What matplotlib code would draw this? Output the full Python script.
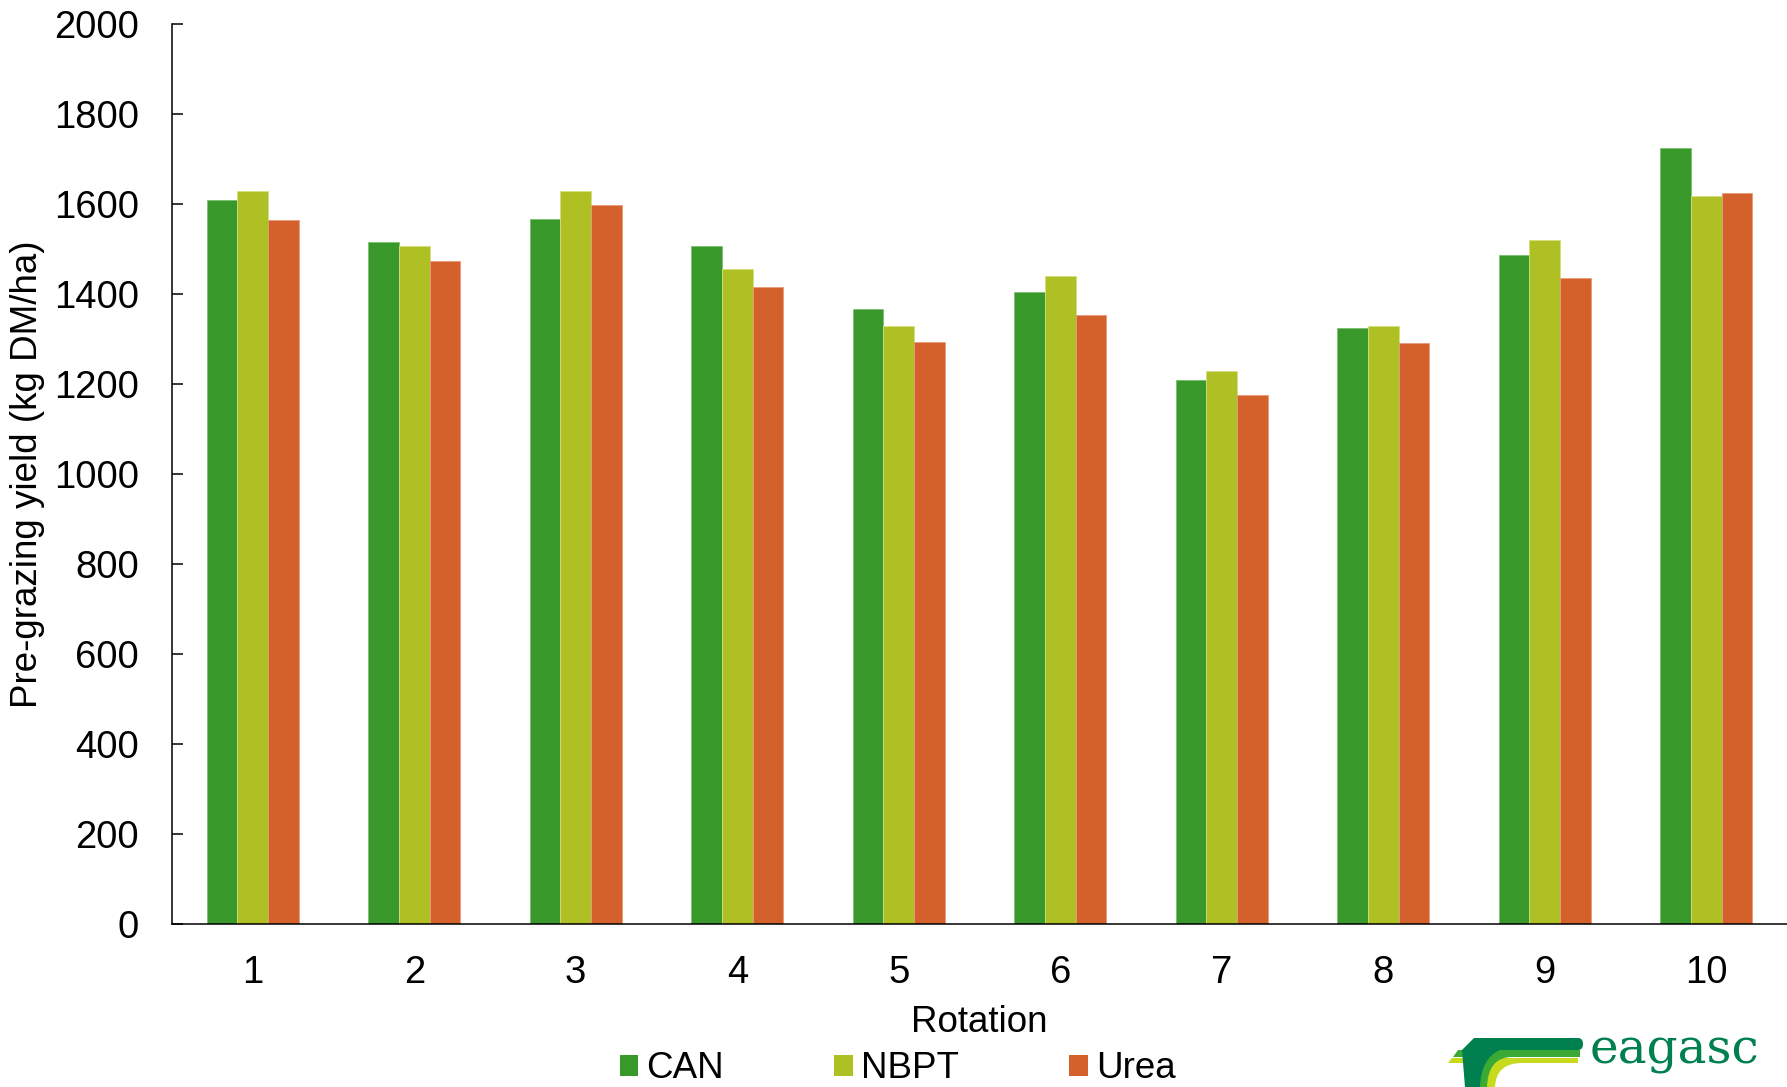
import matplotlib
matplotlib.use("Agg")
import matplotlib.pyplot as plt
import numpy as np
from matplotlib.patches import Patch, PathPatch
from matplotlib.path import Path

plt.rcParams['font.family'] = ['Liberation Sans', 'DejaVu Sans']

rotations = ['1', '2', '3', '4', '5', '6', '7', '8', '9', '10']
series_names = ['CAN', 'NBPT', 'Urea']
can = [1608, 1516, 1567, 1506, 1367, 1405, 1208, 1324, 1486, 1724]
nbpt = [1630, 1506, 1628, 1456, 1329, 1441, 1230, 1329, 1519, 1618]
urea = [1565, 1473, 1597, 1415, 1294, 1354, 1175, 1291, 1435, 1625]
yticks = [0, 200, 400, 600, 800, 1000, 1200, 1400, 1600, 1800, 2000]

colors = ['#389829', '#AFC024', '#D4612B']
edge_colors = ['#7cbf72', '#d4df80', '#e89a78']

W, H = 1787, 1087
fig = plt.figure(figsize=(W / 100, H / 100), dpi=100)
ax = fig.add_axes([172 / W, 1 - 924 / H, (1787 - 172) / W, (924 - 24) / H])

x = np.arange(1, len(rotations) + 1)
bw = 0.19
for i, (vals, c, ec) in enumerate(zip([can, nbpt, urea], colors, edge_colors)):
    ax.bar(x + (i - 1) * bw, vals, width=bw, color=c, edgecolor=ec, linewidth=0.6, zorder=2)

ax.set_xlim(0.5, 10.5)
ax.set_ylim(0, 2000)
ax.set_yticks(yticks)
ax.set_xticks(x)
ax.set_xticklabels(rotations)
ax.tick_params(axis='y', direction='in', length=8, width=1.1, pad=24, labelsize=27.5)
ax.tick_params(axis='x', length=0, pad=22, labelsize=27.5)
for s in ['top', 'right']:
    ax.spines[s].set_visible(False)
for s in ['left', 'bottom']:
    ax.spines[s].set_linewidth(1.1)

fig.text(28 / W, 1 - 474 / H, 'Pre-grazing yield (kg DM/ha)', rotation=90,
         ha='center', va='center', fontsize=26.5)
fig.text(979.5 / W, 1 - 1022 / H, 'Rotation', ha='center', va='center', fontsize=26.5)

handles = [Patch(facecolor=c, edgecolor='none') for c in colors]
fig.legend(handles, series_names, loc='center', bbox_to_anchor=(897.5 / W, 1 - 1069 / H),
           ncol=3, frameon=False, fontsize=26.5, handlelength=0.5, handleheight=0.5,
           handletextpad=0.22, columnspacing=3.0, borderpad=0, borderaxespad=0)

# Logo (decorative)
lx0, lx1, ly0, ly1 = 1440, 1787, 1025, 1087
lax = fig.add_axes([lx0 / W, 1 - ly1 / H, (lx1 - lx0) / W, (ly1 - ly0) / H])
lax.set_xlim(lx0, lx1)
lax.set_ylim(ly1, ly0)
lax.axis('off')
dark = '#00804F'
mid = '#3AAA35'
yel = '#C8DA1E'
M, L, Q, C = Path.MOVETO, Path.LINETO, Path.CURVE3, Path.CLOSEPOLY
yellow_path = Path([(1448, 1063), (1452, 1058), (1578, 1058), (1578, 1063), (1522, 1063),
                    (1496, 1063), (1495, 1087), (1470, 1087), (1470, 1063), (1448, 1063)],
                   [M, L, L, L, L, Q, Q, L, L, C])
lax.add_patch(PathPatch(yellow_path, facecolor=yel, edgecolor='none'))
green_path = Path([(1453, 1057), (1458, 1050), (1580, 1050), (1580, 1057), (1512, 1057),
                   (1488, 1057), (1487, 1087), (1470, 1087), (1470, 1057), (1453, 1057)],
                  [M, L, L, L, L, Q, Q, L, L, C])
lax.add_patch(PathPatch(green_path, facecolor=mid, edgecolor='none'))
band = Path([(1462, 1050), (1474, 1038), (1578, 1038), (1583, 1038), (1583, 1044),
             (1583, 1050), (1578, 1050), (1500, 1050), (1481, 1058), (1480, 1087),
             (1465, 1087), (1462, 1050)],
            [M, L, L, Q, Q, Q, Q, L, Q, Q, L, C])
lax.add_patch(PathPatch(band, facecolor=dark, edgecolor='none'))
lax.text(1590, 1064, 'eagasc', color=dark, fontsize=35, family='DejaVu Serif',
         ha='left', va='baseline')

fig.savefig('out.png', dpi=100)
